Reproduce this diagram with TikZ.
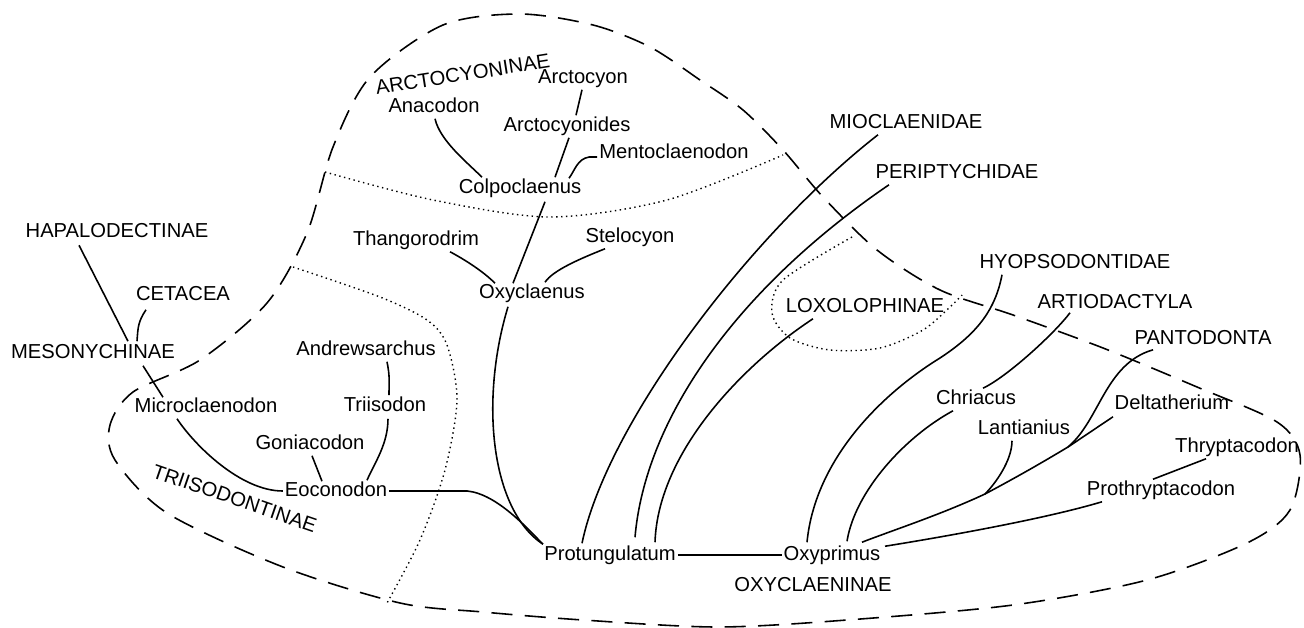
\documentclass[tikz,border=0pt]{standalone}
\usepackage{fontspec}
\setmainfont{Liberation Sans}
\usepackage{tikz}

\begin{document}
\begin{tikzpicture}[x=0.02cm,y=-0.02cm,
    taxon/.style={inner sep=1pt, text height=8.5pt, text depth=2.5pt,
      font=\fontsize{11.5}{13}\selectfont},
    branch/.style={line width=0.9pt},
    border/.style={line width=0.9pt, dash pattern=on 12pt off 7pt},
    zone/.style={line width=0.8pt, dotted}]
    \useasboundingbox (0,0) rectangle (1304,628);

    % group outlines
    \draw[border] plot[smooth cycle] coordinates {(520,14) (593,25) (650,47)
      (700,80) (743,110) (783,150) (823,197) (877,250) (940,290) (1013,315)
      (1103,348) (1197,387) (1277,422) (1300,455) (1290,510) (1247,543)
      (1147,580) (1013,605) (847,620) (717,627) (583,620) (483,612) (400,603)
      (283,567) (167,513) (115,460) (110,425) (133,392) (200,360) (267,303)
      (307,233) (333,147) (370,77) (443,25)};
    \draw[zone] plot[smooth] coordinates {(325,172) (433,200) (550,217)
      (667,200) (783,155)};
    \draw[zone] plot[smooth] coordinates {(293,267) (380,297) (427,320)
      (447,345) (457,400) (445,470) (420,540) (387,603)};
    \draw[zone] plot[smooth] coordinates {(852,237) (783,280) (772,313)
      (790,338) (830,350) (880,348) (923,330) (950,307) (962,295)};

    % taxa
    \node[taxon] (hapa) at (117,232) {HAPALODECTINAE};
    \node[taxon] (ceta) at (183,295) {CETACEA};
    \node[taxon] (meso) at (93,353) {MESONYCHINAE};
    \node[taxon] (micro) at (206,407) {Microclaenodon};
    \node[taxon] (gonia) at (310,444) {Goniacodon};
    \node[taxon] (eocon) at (336,491) {Eoconodon};
    \node[taxon] (andrew) at (366,350) {Andrewsarchus};
    \node[taxon] (triiso) at (385,406) {Triisodon};
    \node[taxon, rotate=-19] (triisoname) at (234,500) {TRIISODONTINAE};
    \node[taxon, rotate=9] (arctoname) at (463,76) {ARCTOCYONINAE};
    \node[taxon] (arctocyon) at (583,78) {Arctocyon};
    \node[taxon] (anaco) at (434,107) {Anacodon};
    \node[taxon] (arctoides) at (567,126) {Arctocyonides};
    \node[taxon] (mento) at (674,153) {Mentoclaenodon};
    \node[taxon] (colpo) at (520,188) {Colpoclaenus};
    \node[taxon] (thango) at (416,240) {Thangorodrim};
    \node[taxon] (stelo) at (630,237) {Stelocyon};
    \node[taxon] (oxycl) at (532,293) {Oxyclaenus};
    \node[taxon] (protu) at (610,555) {Protungulatum};
    \node[taxon] (oxypr) at (832,555) {Oxyprimus};
    \node[taxon] (oxyname) at (813,586) {OXYCLAENINAE};
    \node[taxon] (mioc) at (906,123) {MIOCLAENIDAE};
    \node[taxon] (peri) at (957,173) {PERIPTYCHIDAE};
    \node[taxon] (loxo) at (865,307) {LOXOLOPHINAE};
    \node[taxon] (hyop) at (1075,263) {HYOPSODONTIDAE};
    \node[taxon] (artio) at (1115,303) {ARTIODACTYLA};
    \node[taxon] (panto) at (1203,339) {PANTODONTA};
    \node[taxon] (chria) at (976,399) {Chriacus};
    \node[taxon] (lanti) at (1024,429) {Lantianius};
    \node[taxon] (delta) at (1172,404) {Deltatherium};
    \node[taxon] (thryp) at (1237,447) {Thryptacodon};
    \node[taxon] (prothr) at (1161,490) {Prothryptacodon};

    % left branches
    \draw[branch] ([shift={(-38,1.5)}]hapa.south) -- ([shift={(35,0)}]meso.north);
    \draw[branch] ([shift={(-37,3)}]ceta.south) .. controls +(-8,12) and +(1,-14) .. ([shift={(44,0)}]meso.north);
    \draw[branch] ([shift={(50,1)}]meso.south) -- ([shift={(-43,2)}]micro.north);
    \draw[branch] ([shift={(-29,0)}]micro.south) .. controls +(18,27) and +(-42,0) .. (eocon.west);
    \draw[branch] ([shift={(2,0)}]gonia.south) -- ([shift={(-14,2)}]eocon.north);
    \draw[branch] ([shift={(21,0)}]andrew.south) .. controls +(3,15) and +(0,-15) .. ([shift={(4,1)}]triiso.north);
    \draw[branch] ([shift={(3,1)}]triiso.south) .. controls +(0,25) and +(8,-18) .. ([shift={(31,1)}]eocon.north);
    \draw[branch] (eocon.east) -- ++(78,0) .. controls +(30,3) and +(-15,-15) .. ([shift={(-67,1)}]protu.north);

    % arctocyonines
    \draw[branch] ([shift={(-1,0)}]arctocyon.south) -- ([shift={(9,1)}]arctoides.north);
    \draw[branch] ([shift={(2,0)}]arctoides.south) -- ([shift={(35,1)}]colpo.north);
    \draw[branch] ([shift={(1,0)}]anaco.south) .. controls +(5,22) and +(-15,-15) .. ([shift={(-38,1)}]colpo.north);
    \draw[branch] ([shift={(0,4)}]mento.west) -- ++(-8,0) .. controls +(-12,2) and +(6,-8) .. ([shift={(49,2)}]colpo.north);
    \draw[branch] ([shift={(25,2)}]colpo.south) -- ([shift={(-19,2)}]oxycl.north);
    \draw[branch] ([shift={(34,0)}]thango.south) .. controls +(15,8) and +(-12,-12) .. ([shift={(-37,2)}]oxycl.north);
    \draw[branch] ([shift={(-25,0)}]stelo.south) .. controls +(-25,10) and +(8,-12) .. ([shift={(13,1)}]oxycl.north);
    \draw[branch] ([shift={(-24,2)}]oxycl.south) .. controls +(-28,92) and +(-53,-35) .. ([shift={(-67,1)}]protu.north);

    % families from Protungulatum
    \draw[branch] ([shift={(-28,0)}]mioc.south) .. controls +(-128,100) and +(25,-120) .. ([shift={(-28,0)}]protu.north);
    \draw[branch] ([shift={(-68,0)}]peri.south) .. controls +(-154,105) and +(10,-117) .. ([shift={(25,-6)}]protu.north);
    \draw[branch] ([shift={(-52,0)}]loxo.south) .. controls +(-70,46) and +(3,-90) .. ([shift={(45,-1)}]protu.north);
    \draw[branch] (protu.east) -- (oxypr.west);

    % oxyclaenines
    \draw[branch] ([shift={(-73,0)}]hyop.south) .. controls +(-7,37) and +(35,-23) .. (940,358)
      .. controls +(-60,37) and +(8,-82) .. ([shift={(-25,-1)}]oxypr.north);
    \draw[branch] ([shift={(-23,0)}]chria.south) .. controls +(-48,26) and +(8,-50) .. ([shift={(15,-2)}]oxypr.north);
    \draw[branch] ([shift={(-45,-2)}]artio.south) .. controls +(-15,20) and +(25,-12) .. ([shift={(7,1)}]chria.north);
    \draw[branch] ([shift={(-59,1)}]delta.south) -- (1068,447) coordinate (pfork)
      .. controls +(-30,18) and +(30,-16) .. (985,494) coordinate (lfork)
      .. controls +(-45,21) and +(28,-11) .. ([shift={(30,-1)}]oxypr.north);
    \draw[branch] ([shift={(-12,0)}]lanti.south) .. controls +(0,20) and +(10,-10) .. (lfork);
    \draw[branch] ([shift={(-50,-1)}]panto.south) .. controls +(-48,14) and +(32,-27) .. (pfork);
    \draw[branch] ([shift={(-31,0)}]thryp.south) -- ([shift={(-8,1)}]prothr.north);
    \draw[branch] ([shift={(-59,0)}]prothr.south) .. controls +(-60,18) and +(50,-8) .. ([shift={(53,3)}]oxypr.north);
\end{tikzpicture}
\end{document}
